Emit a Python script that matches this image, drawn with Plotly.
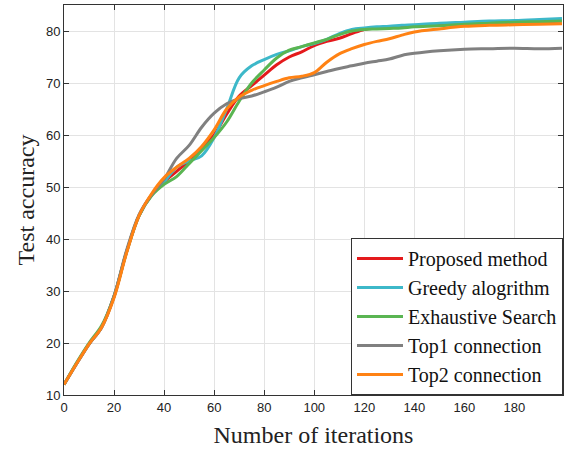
import plotly.graph_objects as go

iters = [0, 5, 10, 15, 20, 25, 30, 35, 40, 45, 50, 55, 60, 65, 70, 75, 80, 85, 90, 95,
         100, 105, 110, 115, 120, 125, 130, 135, 140, 150, 160, 170, 180, 190, 199]

proposed = [12, 16, 19.8, 23, 29, 37.5, 44.5, 48.5, 51, 53, 55, 57.5, 60, 64, 67.5, 69.5, 71.5, 73.5, 75, 76,
            77.2, 78, 78.6, 79.5, 80.3, 80.6, 80.8, 80.9, 81, 81.2, 81.5, 81.6, 81.7, 81.8, 81.9]
greedy = [12, 16, 19.8, 23, 29, 37.5, 44.5, 48.5, 51, 53.8, 55, 56, 59.5, 65, 71, 73.3, 74.5, 75.5, 76.2, 77,
          77.6, 78.4, 79.5, 80.3, 80.6, 80.8, 80.9, 81.1, 81.2, 81.5, 81.7, 81.9, 82, 82.2, 82.4]
exhaustive = [12, 16.2, 20, 23.3, 29, 37.5, 44.5, 48.3, 50.5, 52, 54.5, 57, 59.5, 62.5, 66.5, 70, 72.5, 74.8, 76.3, 77,
              77.7, 78.4, 79.3, 80, 80.3, 80.4, 80.5, 80.6, 80.8, 81, 81.3, 81.5, 81.7, 81.8, 81.9]
top1 = [12, 16, 19.8, 23, 29, 37.8, 44.7, 48.5, 51.5, 55.5, 58, 61.5, 64.2, 66, 67, 67.5, 68.3, 69.2, 70.3, 71,
        71.6, 72.2, 72.8, 73.3, 73.8, 74.2, 74.6, 75.3, 75.7, 76.2, 76.5, 76.6, 76.7, 76.6, 76.7]
top2 = [12, 16, 19.8, 23, 28.7, 37.3, 44.5, 48.7, 51.8, 53.8, 55.5, 57.8, 61, 65, 67.3, 68.6, 69.5, 70.3, 71, 71.3,
        72, 74, 75.6, 76.6, 77.4, 78, 78.5, 79.2, 79.8, 80.4, 80.9, 81.1, 81.2, 81.3, 81.4]

names = ["Proposed method", "Greedy alogrithm", "Exhaustive Search", "Top1 connection", "Top2 connection"]
series = [proposed, greedy, exhaustive, top1, top2]
colors = ["#e41a1c", "#3db8c9", "#5ab552", "#808080", "#ff8214"]

x_ticks = list(range(0, 181, 20))
y_ticks = list(range(10, 81, 10))

fig = go.Figure()
for n, s, c in zip(names, series, colors):
    fig.add_trace(go.Scatter(x=iters, y=s, mode="lines", name=n,
                             line=dict(color=c, width=3, shape="spline", smoothing=1.0)))

axis_common = dict(showline=True, linecolor="#333333", linewidth=1, mirror="ticks",
                   ticks="inside", ticklen=5, tickcolor="#333333", automargin=False,
                   showgrid=True, gridcolor="#e3e3e3", gridwidth=1, zeroline=False,
                   tickfont=dict(family="Liberation Sans, Arial", size=13, color="#222222"))

fig.update_layout(
    width=570, height=453,
    margin=dict(l=64, r=7, t=5, b=58, autoexpand=False),
    paper_bgcolor="white", plot_bgcolor="white",
    xaxis=dict(range=[0, 199.4], tickvals=x_ticks,
               title=dict(text="Number of iterations", standoff=12,
                          font=dict(family="Liberation Serif, Times New Roman", size=24, color="#222222")),
               **axis_common),
    yaxis=dict(range=[10, 85], tickvals=y_ticks,
               title=dict(text="Test accuracy", standoff=4,
                          font=dict(family="Liberation Serif, Times New Roman", size=24, color="#222222")),
               **axis_common),
    legend=dict(x=1, y=0, xanchor="right", yanchor="bottom", bgcolor="white",
                bordercolor="#333333", borderwidth=1, itemwidth=46,
                font=dict(family="Liberation Serif, Times New Roman", size=20, color="#111111"),
                tracegroupgap=0),
    showlegend=True,
)

fig.write_html("out.html", config={"displayModeBar": False},
               post_script="document.body.style.margin='0';document.body.style.padding='0';")
